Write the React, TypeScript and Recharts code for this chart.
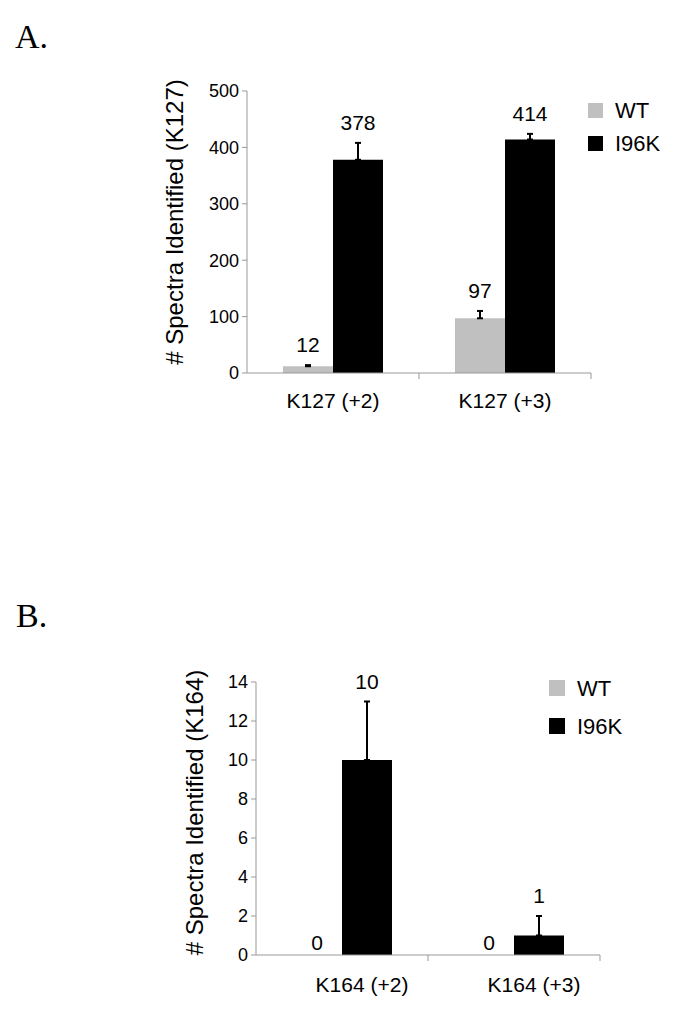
import { BarChart, Bar, XAxis, YAxis, ErrorBar, LabelList, Legend } from "recharts";

// Panel A
const categoriesA = ["K127 (+2)", "K127 (+3)"];
const wtA = [12, 97];
const i96kA = [378, 414];
const wtErrA = [2, 13];
const i96kErrA = [30, 10];
const yTicksA = [0, 100, 200, 300, 400, 500];

// Panel B
const categoriesB = ["K164 (+2)", "K164 (+3)"];
const wtB = [0, 0];
const i96kB = [10, 1];
const wtErrB = [0, 0];
const i96kErrB = [3, 1];
const yTicksB = [0, 2, 4, 6, 8, 10, 12, 14];

const seriesOrder = ["WT", "I96K"];

const AXIS = "#999";
const FONT = "'Liberation Sans', Arial, sans-serif";

const buildRows = (cats: string[], wt: number[], mut: number[], wtErr: number[], mutErr: number[]) =>
  cats.map((name, i) => ({
    name,
    wt: wt[i],
    i96k: mut[i],
    wtErr: [0, wtErr[i]],
    i96kErr: [0, mutErr[i]],
  }));

// value label sits above the error bar cap; a zero WT value gets its label
// drawn from the neighbouring I96K bar (zero-height bars get no label)
const valueLabel = (vals: number[], errs: number[], sideVals?: number[]) => (props: any) => {
  const vb = props.viewBox ?? props;
  const x = Number(vb.x);
  const y = Number(vb.y);
  const w = Number(vb.width);
  const h = Number(vb.height);
  const v = Number(props.value);
  const i = props.index ?? vals.indexOf(v);
  if (!sideVals && v === 0) return null;
  const errPx = v > 0 ? (errs[i] * h) / v : 0;
  const base = v > 0 ? y - errPx - 13 : y - 5;
  const side = sideVals ? sideVals[i] : null;
  return (
    <g>
      <text x={x + w / 2} y={base} textAnchor="middle" fontSize={21} fill="#000">
        {props.value}
      </text>
      {side === 0 && (
        <text x={x - w / 2} y={y + h - 5} textAnchor="middle" fontSize={21} fill="#000">
          {side}
        </text>
      )}
    </g>
  );
};

const CatTick = (props: any) => {
  const { x, y, payload, shift, drop } = props;
  const off = payload.offset ?? 0;
  return (
    <g>
      <line x1={x + off} x2={x + off} y1={y} y2={y + 6} stroke={AXIS} />
      <text x={x + shift} y={y + drop} textAnchor="middle" fontSize={21} fill="#000">
        {payload.value}
      </text>
    </g>
  );
};

interface PanelProps {
  top: number;
  height: number;
  plotTop: number;
  plotBottom: number;
  plotLeft: number;
  rows: any[];
  ticks: number[];
  yLabel: string;
  yLabelBase: number;
  yLabelDy: number;
  wtVals: number[];
  wtErrs: number[];
  mutVals: number[];
  mutErrs: number[];
  showWtErr: boolean;
  tickShift: number;
  tickDrop: number;
  legendLeft: number;
  legendTop: number;
  legendSq: number;
  legendTextX: number;
  legendGap: number;
}

const Panel = (p: PanelProps) => {
  const plotW = 344;
  const margin = {
    top: p.plotTop - p.top,
    left: p.plotLeft - 80,
    right: 674 - (p.plotLeft + plotW),
    bottom: p.height - (p.plotBottom - p.top) - 40,
  };
  return (
    <div style={{ position: "absolute", left: 0, top: p.top }}>
      <BarChart width={674} height={p.height} data={p.rows} margin={margin} barGap={0} barCategoryGap={36}>
        <XAxis
          dataKey="name"
          height={40}
          stroke={AXIS}
          tickLine={false}
          tickSize={0}
          tickMargin={0}
          interval={0}
          tick={<CatTick shift={p.tickShift} drop={p.tickDrop} />}
        />
        <YAxis
          width={80}
          domain={[0, p.ticks[p.ticks.length - 1]]}
          ticks={p.ticks}
          interval={0}
          stroke={AXIS}
          tickSize={5}
          tickMargin={3}
          tick={{ fill: "#000", fontSize: 18 }}
          label={(lp: any) => {
            const vb = lp.viewBox;
            const cy = vb.y + vb.height / 2 + p.yLabelDy;
            return (
              <text
                transform={`translate(${p.yLabelBase},${cy}) rotate(-90)`}
                textAnchor="middle"
                fontSize={24}
                fill="#000"
              >
                {p.yLabel}
              </text>
            );
          }}
        />
        <Legend
          layout="vertical"
          align="center"
          verticalAlign="middle"
          wrapperStyle={{ left: p.legendLeft, top: p.legendTop - p.top, width: "auto", height: "auto" }}
          content={({ payload }: any) => {
            const items = [...(payload ?? [])].sort(
              (a: any, b: any) => seriesOrder.indexOf(a.value) - seriesOrder.indexOf(b.value)
            );
            return (
              <svg width={110} height={80}>
                {items.map((e: any, i: number) => (
                  <g key={i}>
                    <rect x={3} y={8 + i * p.legendGap} width={p.legendSq} height={p.legendSq} fill={e.color} />
                    <text x={p.legendTextX} y={8 + i * p.legendGap + p.legendSq} fontSize={22} fill="#000">
                      {e.value}
                    </text>
                  </g>
                ))}
              </svg>
            );
          }}
        />
        <Bar dataKey="wt" name="WT" fill="#c0c0c0" isAnimationActive={false}>
          {p.showWtErr && (
            <ErrorBar dataKey="wtErr" width={3} strokeWidth={2} stroke="#000" direction="y" isAnimationActive={false} />
          )}
          <LabelList dataKey="wt" content={valueLabel(p.wtVals, p.wtErrs)} />
        </Bar>
        <Bar dataKey="i96k" name="I96K" fill="#000" isAnimationActive={false}>
          <ErrorBar dataKey="i96kErr" width={3} strokeWidth={2} stroke="#000" direction="y" isAnimationActive={false} />
          <LabelList dataKey="i96k" content={valueLabel(p.mutVals, p.mutErrs, p.wtVals)} />
        </Bar>
      </BarChart>
    </div>
  );
};

export default function App() {
  return (
    <div
      style={{
        position: "absolute",
        left: 0,
        top: 0,
        width: 674,
        height: 1014,
        background: "#fff",
        fontFamily: FONT,
      }}
    >
      <svg
        width={674}
        height={1014}
        style={{ position: "absolute", left: 0, top: 0 }}
        fontFamily="'Liberation Serif', 'Times New Roman', serif"
        fontSize={34}
      >
        <text x={15} y={48}>A.</text>
        <text x={16} y={627}>B.</text>
      </svg>
      <Panel
        top={0}
        height={450}
        plotTop={91}
        plotBottom={373}
        plotLeft={247}
        rows={buildRows(categoriesA, wtA, i96kA, wtErrA, i96kErrA)}
        ticks={yTicksA}
        yLabel="# Spectra Identified (K127)"
        yLabelBase={183}
        yLabelDy={-10}
        wtVals={wtA}
        wtErrs={wtErrA}
        mutVals={i96kA}
        mutErrs={i96kErrA}
        showWtErr={true}
        tickShift={0}
        tickDrop={35}
        legendLeft={585}
        legendTop={95}
        legendSq={15}
        legendTextX={30}
        legendGap={33}
      />
      <Panel
        top={600}
        height={414}
        plotTop={682}
        plotBottom={955}
        plotLeft={256}
        rows={buildRows(categoriesB, wtB, i96kB, wtErrB, i96kErrB)}
        ticks={yTicksB}
        yLabel="# Spectra Identified (K164)"
        yLabelBase={203}
        yLabelDy={-6}
        wtVals={wtB}
        wtErrs={wtErrB}
        mutVals={i96kB}
        mutErrs={i96kErrB}
        showWtErr={false}
        tickShift={20}
        tickDrop={37}
        legendLeft={546}
        legendTop={672}
        legendSq={16}
        legendTextX={31}
        legendGap={38}
      />
    </div>
  );
}
